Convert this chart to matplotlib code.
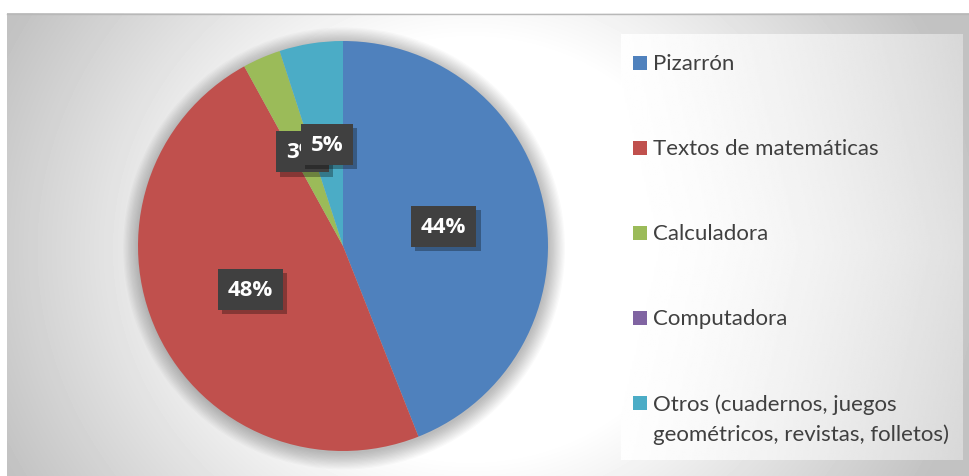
import numpy as np
import matplotlib
matplotlib.use("Agg")
import matplotlib.pyplot as plt
import matplotlib.patheffects as pe
from matplotlib.patches import Rectangle, Circle

# Data
categories = ["Pizarrón", "Textos de matemáticas", "Calculadora", "Computadora",
              "Otros (cuadernos, juegos\ngeométricos, revistas, folletos)"]
values = [44, 48, 3, 0, 5]
colors = ["#4F81BD", "#C0504D", "#9BBB59", "#8064A2", "#4BACC6"]

plt.rcParams['font.family'] = ['Lato', 'DejaVu Sans']

W, H = 969, 477
fig = plt.figure(figsize=(W / 100, H / 100), dpi=100)

# background (pixel coordinates)
bg = fig.add_axes([0, 0, 1, 1])
bg.set_xlim(0, W)
bg.set_ylim(H, 0)
bg.axis('off')

yy, xx = np.mgrid[14:H, 7:W]
r = np.hypot(xx - 470, (yy - 250) * 1.1)
val = 1 - 0.24 * np.clip((r - 230) / 290, 0, 1)
bg.imshow(val, cmap='gray', vmin=0, vmax=1, extent=[7, W, H, 14],
          aspect='auto', interpolation='bilinear', zorder=0)
bg.plot([7, W], [14.5, 14.5], color='#b8b8b8', lw=1, zorder=1)

# legend panel with a soft gradient
ly, lx = np.mgrid[0:1:200j, 0:1:200j]
lval = 1 - 0.16 * np.clip(lx * 0.85 + np.abs(ly - 0.5) * 0.25, 0, 1) ** 1.6
bg.imshow(lval, cmap='gray', vmin=0, vmax=1, extent=[621, 963, 461, 35],
          aspect='auto', interpolation='bilinear', zorder=1)

# legend entries
entry_y = [64, 149, 234, 319, 404]
for cat, col, y in zip(categories, colors, entry_y):
    bg.add_patch(Rectangle((633, y - 7), 14, 14, facecolor=col, edgecolor='none', zorder=2))
    bg.text(653, y - 10, cat, fontsize=16, color='#404040', va='top', ha='left',
            linespacing=1.57, zorder=2)

# pie axes
R = 205
ext = 1.15
cx, cy = 343, 247
half = R * ext
ax = fig.add_axes([(cx - half) / W, 1 - (cy + half) / H, 2 * half / W, 2 * half / H])
ax.patch.set_alpha(0)

# soft shadow under the pie
for k in range(14):
    ax.add_patch(Circle((0.005, -0.012), 1.0 + 0.006 * k, facecolor='black',
                        edgecolor='none', alpha=0.018, zorder=0))

wedges, texts, autotexts = ax.pie(
    values, colors=colors, startangle=90, counterclock=False, radius=1,
    autopct=lambda p: f'{p:.0f}%' if p > 0 else '', pctdistance=0.5,
    wedgeprops=dict(edgecolor='none'))
ax.set_xlim(-ext, ext)
ax.set_ylim(-ext, ext)
ax.axis('off')

for t in autotexts:
    if not t.get_text():
        continue
    t.set_color('white')
    t.set_fontfamily(['Open Sans', 'DejaVu Sans'])
    t.set_fontsize(16)
    t.set_fontweight('bold')
    t.set_zorder(5)
    t.set_bbox(dict(boxstyle='square,pad=0.45', facecolor='#404040',
                    edgecolor='none', linewidth=0))
    t.get_bbox_patch().set_path_effects(
        [pe.SimplePatchShadow(offset=(3, -3), shadow_rgbFace='black', alpha=0.3), pe.Normal()])

fig.savefig('out.png', dpi=100)
